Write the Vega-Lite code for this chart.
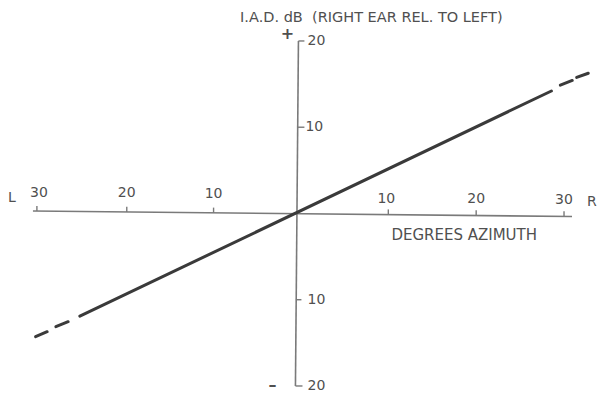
{
  "$schema": "https://vega.github.io/schema/vega-lite/v6.json",
  "width": 597,
  "height": 394,
  "autosize": {"type": "fit", "contains": "padding"},
  "padding": 0,
  "background": "#ffffff",
  "config": {"view": {"stroke": null}},
  "datasets": {
    "axes": [
      {"name": "azimuth", "x": -30.45, "y": 0.29, "x2": 30.91, "y2": -0.35},
      {"name": "iad", "x": -0.23, "y": 20.0, "x2": -0.57, "y2": -20.0}
    ],
    "ticks": [
      {"x": -30.0, "y": 0.285, "x2": -30.0, "y2": 0.88},
      {"x": -19.77, "y": 0.179, "x2": -19.77, "y2": 0.78},
      {"x": -9.89, "y": 0.077, "x2": -9.89, "y2": 0.68},
      {"x": 10.0, "y": -0.131, "x2": 10.0, "y2": 0.47},
      {"x": 20.0, "y": -0.234, "x2": 20.0, "y2": 0.37},
      {"x": 30.0, "y": -0.339, "x2": 30.0, "y2": 0.26},
      {"x": -0.23, "y": 20.0, "x2": 0.45, "y2": 20.0},
      {"x": -0.33, "y": 10.0, "x2": 0.45, "y2": 10.0},
      {"x": -0.5, "y": -10.0, "x2": 0.11, "y2": -10.0},
      {"x": -0.57, "y": -20.0, "x2": 0.23, "y2": -20.0}
    ],
    "curve": [
      {"seg": "dash L1", "x": -30.15, "y": -14.29, "x2": -28.83, "y2": -13.71},
      {"seg": "dash L2", "x": -27.84, "y": -13.13, "x2": -26.44, "y2": -12.55},
      {"seg": "solid", "x": -25.11, "y": -11.91, "x2": 28.56, "y2": 14.2},
      {"seg": "dash R1", "x": 29.58, "y": 14.87, "x2": 30.94, "y2": 15.42},
      {"seg": "dash R2", "x": 31.44, "y": 15.77, "x2": 32.76, "y2": 16.26}
    ],
    "centerLabels": [
      {"x": -29.77, "y": 2.38, "text": "30"},
      {"x": -19.77, "y": 2.38, "text": "20"},
      {"x": -9.89, "y": 2.3, "text": "10"},
      {"x": 9.77, "y": 1.68, "text": "10"},
      {"x": 20.0, "y": 1.68, "text": "20"},
      {"x": 30.0, "y": 1.6, "text": "30"},
      {"x": -32.84, "y": 1.8, "text": "L"},
      {"x": 33.18, "y": 1.33, "text": "R"}
    ],
    "signs": [
      {"x": -1.48, "y": 20.81, "text": "+"},
      {"x": -3.18, "y": -19.88, "text": "–"}
    ],
    "leftLabels": [
      {"x": 0.8, "y": 20.0, "text": "20"},
      {"x": 0.57, "y": 10.0, "text": "10"},
      {"x": 0.8, "y": -10.0, "text": "10"},
      {"x": 0.8, "y": -20.0, "text": "20"}
    ],
    "titles": [
      {"x": 8.07, "y": 22.67, "text": "I.A.D. dB\u00a0 (RIGHT EAR REL. TO LEFT)", "role": "y title"}
    ],
    "xtitle": [
      {"x": 18.64, "y": -2.49, "text": "DEGREES AZIMUTH", "role": "x title"}
    ]
  },
  "layer": [
    {
      "data": {"name": "axes"},
      "mark": {"type": "rule", "color": "#7a7a7a", "strokeWidth": 1.6},
      "encoding": {
        "x": {"field": "x", "type": "quantitative", "scale": {"domain": [-34.2, 33.64], "nice": false, "zero": false}, "axis": null},
        "y": {"field": "y", "type": "quantitative", "scale": {"domain": [-20.93, 24.75], "nice": false, "zero": false}, "axis": null},
        "x2": {"field": "x2"},
        "y2": {"field": "y2"}
      }
    },
    {
      "data": {"name": "ticks"},
      "mark": {"type": "rule", "color": "#7a7a7a", "strokeWidth": 1.4},
      "encoding": {
        "x": {"field": "x", "type": "quantitative"},
        "y": {"field": "y", "type": "quantitative"},
        "x2": {"field": "x2"},
        "y2": {"field": "y2"}
      }
    },
    {
      "data": {"name": "curve"},
      "mark": {"type": "rule", "color": "#3a3a3a", "strokeWidth": 3, "strokeCap": "round"},
      "encoding": {
        "x": {"field": "x", "type": "quantitative"},
        "y": {"field": "y", "type": "quantitative"},
        "x2": {"field": "x2"},
        "y2": {"field": "y2"}
      }
    },
    {
      "data": {"name": "centerLabels"},
      "mark": {"type": "text", "font": "DejaVu Sans", "fontSize": 14, "color": "#505050", "align": "center", "baseline": "middle"},
      "encoding": {
        "x": {"field": "x", "type": "quantitative"},
        "y": {"field": "y", "type": "quantitative"},
        "text": {"field": "text"}
      }
    },
    {
      "data": {"name": "signs"},
      "mark": {"type": "text", "font": "DejaVu Sans", "fontSize": 16, "fontWeight": "bold", "color": "#505050", "align": "center", "baseline": "middle"},
      "encoding": {
        "x": {"field": "x", "type": "quantitative"},
        "y": {"field": "y", "type": "quantitative"},
        "text": {"field": "text"}
      }
    },
    {
      "data": {"name": "leftLabels"},
      "mark": {"type": "text", "font": "DejaVu Sans", "fontSize": 14, "color": "#505050", "align": "left", "baseline": "middle"},
      "encoding": {
        "x": {"field": "x", "type": "quantitative"},
        "y": {"field": "y", "type": "quantitative"},
        "text": {"field": "text"}
      }
    },
    {
      "data": {"name": "titles"},
      "mark": {"type": "text", "font": "DejaVu Sans", "fontSize": 14.5, "color": "#505050", "align": "center", "baseline": "middle"},
      "encoding": {
        "x": {"field": "x", "type": "quantitative"},
        "y": {"field": "y", "type": "quantitative"},
        "text": {"field": "text"}
      }
    },
    {
      "data": {"name": "xtitle"},
      "mark": {"type": "text", "font": "DejaVu Sans", "fontSize": 15, "color": "#505050", "align": "center", "baseline": "middle"},
      "encoding": {
        "x": {"field": "x", "type": "quantitative"},
        "y": {"field": "y", "type": "quantitative"},
        "text": {"field": "text"}
      }
    }
  ]
}
